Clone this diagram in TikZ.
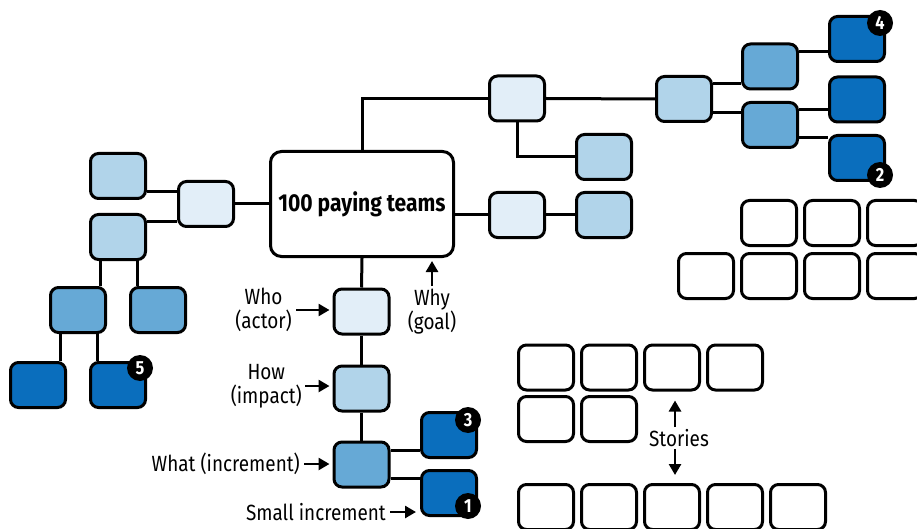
\documentclass[tikz,border=0pt]{standalone}
\usepackage{fontspec}
\setmainfont{Fira Sans}[FakeStretch=0.86]
\usetikzlibrary{arrows.meta}
\definecolor{tierA}{HTML}{E2EEF8}
\definecolor{tierB}{HTML}{B1D4EA}
\definecolor{tierC}{HTML}{66A9D6}
\definecolor{tierD}{HTML}{0A6EBD}
\begin{document}
\begin{tikzpicture}[x=1pt,y=-1pt,
  card/.style={draw, line width=3pt, rounded corners=8pt, minimum width=55pt, minimum height=45pt, inner sep=0pt},
  lvlA/.style={card, fill=tierA},
  lvlB/.style={card, fill=tierB},
  lvlC/.style={card, fill=tierC},
  lvlD/.style={card, fill=tierD},
  story/.style={card, fill=white},
  link/.style={line width=3pt},
  pointer/.style={line width=2.6pt, -{Triangle[length=11pt,width=12pt]}},
  badge/.style={circle, fill=black, text=white, font=\bfseries\fontsize{19}{19}\selectfont, minimum size=26pt, inner sep=0pt},
  caption/.style={font=\fontsize{22}{24}\selectfont, align=center, inner sep=0pt}]
\useasboundingbox (0,0) rectangle (917,529);
\clip (0,0) rectangle (917,529);

% goal
\node[card, minimum width=183pt, minimum height=105pt, rounded corners=11pt,
      font=\bfseries\fontsize{24.5}{24.5}\selectfont] (C) at (362,204) {100 paying teams};

% main branch: actor -> impact -> increments
\node[lvlA] (W) at (361.5,311.5) {};
\node[lvlB] (H) at (361.5,388.5) {};
\node[lvlC] (X) at (361.5,464.5) {};
\node[lvlD] (B3) at (449,435) {};
\node[lvlD] (B1) at (449,493) {};

% left branch
\node[lvlA] (LA) at (206,204) {};
\node[lvlB] (L1) at (118,176) {};
\node[lvlB] (L2) at (118,237) {};
\node[lvlC] (L3a) at (78,310) {};
\node[lvlC] (L3b) at (158,310) {};
\node[lvlD] (L4a) at (38,385) {};
\node[lvlD] (L4b) at (118,385) {};

% top branch
\node[lvlA] (T1) at (517,98.5) {};
\node[lvlB] (T1c) at (604,157) {};
\node[lvlB] (T2) at (684,99) {};
\node[lvlC] (T3a) at (770,66.5) {};
\node[lvlC] (T3b) at (770,125) {};
\node[lvlD] (T4a) at (857,39) {};
\node[lvlD] (T4b) at (857,99.5) {};
\node[lvlD] (T4c) at (857,158) {};

% right branch
\node[lvlA] (R1) at (517,215) {};
\node[lvlB] (R2) at (604,215) {};

% connectors
\draw[link] (C.west) -- (LA.east);
\draw[link] (C.north) -- (C.north |- T1.west) -- (T1.west);
\draw[link] (C.east |- R1.west) -- (R1.west);
\draw[link] (R1.east) -- (R2.west);
\draw[link] (C.south) -- (W.north);
\draw[link] (W.south) -- (H.north);
\draw[link] (H.south) -- (X.north);

\coordinate (xo3) at ([yshift=14.5pt]X.east);
\coordinate (xo1) at ([yshift=-13.5pt]X.east);
\draw[link] (xo3) -- (xo3 -| B3.west);
\draw[link] (xo1) -- (xo1 -| B1.west);

\coordinate (l1o) at ([yshift=-16pt]L1.east);
\coordinate (l2o) at ([yshift=15pt]L2.east);
\draw[link] (l1o) -- (l1o -| LA.west);
\draw[link] (l2o) -- (l2o -| LA.west);
\coordinate (l2a) at ([xshift=-18pt]L2.south);
\coordinate (l2b) at ([xshift=19pt]L2.south);
\draw[link] (l2a) -- (l2a |- L3a.north);
\draw[link] (l2b) -- (l2b |- L3b.north);
\coordinate (l3a) at ([xshift=-18pt]L3a.south);
\coordinate (l3b) at ([xshift=19pt]L3a.south);
\draw[link] (l3a) -- (l3a |- L4a.north);
\draw[link] (l3b) -- (l3b |- L4b.north);

\draw[link] (T1.east) -- (T2.west);
\draw[link] (T1.south) -- (T1.south |- T1c.west) -- (T1c.west);
\coordinate (t2a) at ([yshift=15pt]T2.east);
\coordinate (t2b) at ([yshift=-14pt]T2.east);
\draw[link] (t2a) -- (t2a -| T3a.west);
\draw[link] (t2b) -- (t2b -| T3b.west);
\coordinate (t3a) at ([yshift=14.5pt]T3a.east);
\coordinate (t3b) at ([yshift=15pt]T3b.east);
\coordinate (t3c) at ([yshift=-13pt]T3b.east);
\draw[link] (t3a) -- (t3a -| T4a.west);
\draw[link] (t3b) -- (t3b -| T4b.west);
\draw[link] (t3c) -- (t3c -| T4c.west);

% numbered markers
\node[badge] (n4) at (880,23) {4};
\node[badge] (n2) at (880,175) {2};
\node[badge] (n5) at (140,368) {5};
\node[badge] (n3) at (468,420) {3};
\node[badge] (n1) at (468,506) {1};

% story backlog, upper right
\foreach \i/\x in {1/769,2/832,3/895} \node[story] (ga\i) at (\x,223) {};
\foreach \i/\x in {1/706,2/769,3/832,4/895} \node[story] (gb\i) at (\x,276) {};

% story backlog, lower right
\foreach \i/\x in {1/546,2/609,3/672,4/735} \node[story] (st1\i) at (\x,367.5) {};
\foreach \i/\x in {1/546,2/609} \node[story] (st2\i) at (\x,419) {};
\foreach \i/\x in {1/546,2/609,3/672,4/735,5/798} \node[story] (st3\i) at (\x,507) {};

% captions
\node[caption, anchor=east] (lWho) at (292,310) {Who\\(actor)};
\node[caption, anchor=north] (lWhy) at (432,289) {Why\\(goal)};
\node[caption, anchor=east] (lHow) at (302,386) {How\\(impact)};
\node[caption, anchor=east] (lWhat) at (300,464) {What (increment)};
\node[caption, anchor=east] (lSmall) at (386,512) {Small increment};
\node[caption] (lSt) at (679,438) {Stories};

\draw[pointer, shorten <=4pt, shorten >=3pt] (lWho.east) -- (lWho.east -| W.west);
\draw[pointer, shorten <=3pt, shorten >=3pt] (lWhy.north) -- (lWhy.north |- C.south);
\draw[pointer, shorten <=3pt, shorten >=3pt] (lHow.east) -- (lHow.east -| H.west);
\draw[pointer, shorten <=4pt, shorten >=3pt] (lWhat.east) -- (lWhat.east -| X.west);
\draw[pointer, shorten <=4pt, shorten >=4pt] (lSmall.east) -- (lSmall.east -| B1.west);
\draw[pointer, shorten <=2pt, shorten >=9pt] ([xshift=-4pt]lSt.north) -- ([xshift=-4pt]lSt.north |- st13.south);
\draw[pointer, shorten <=2pt, shorten >=8pt] ([xshift=-4pt]lSt.south) -- ([xshift=-4pt]lSt.south |- st33.north);
\end{tikzpicture}
\end{document}
